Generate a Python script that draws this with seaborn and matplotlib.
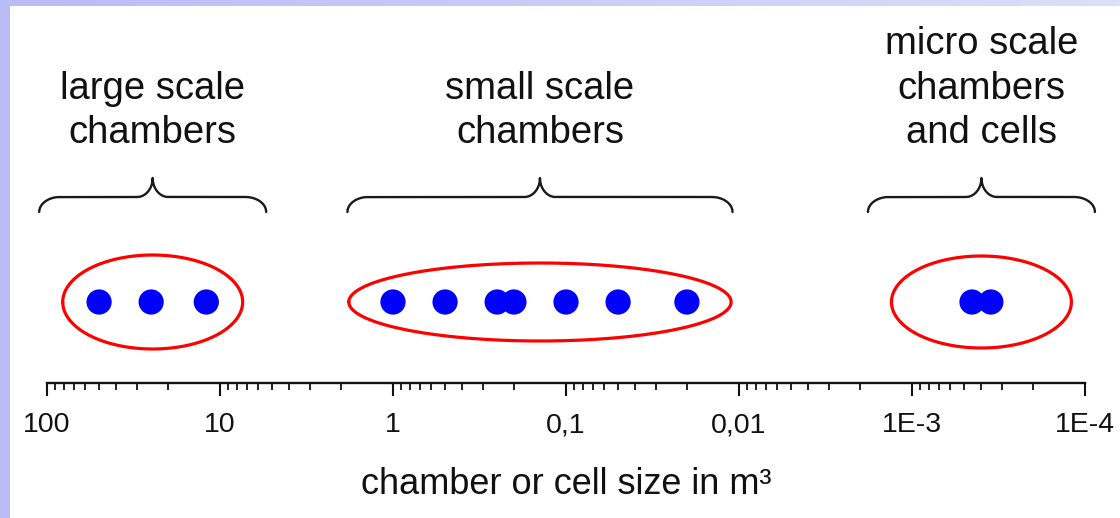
import numpy as np
import pandas as pd
import matplotlib
matplotlib.use("Agg")
import matplotlib.pyplot as plt
import matplotlib.ticker as mticker
import seaborn as sns

# chamber / cell sizes in m^3
large_sizes = [50, 25, 12]
small_sizes = [1.0, 0.5, 0.25, 0.2, 0.1, 0.05, 0.02]
micro_sizes = [4.5e-4, 3.5e-4]

group_labels = ["large scale\nchambers", "small scale\nchambers",
                "micro scale\nchambers\nand cells"]

tick_values = [100, 10, 1, 0.1, 0.01, 1e-3, 1e-4]
tick_labels = ["100", "10", "1", "0,1", "0,01", "1E-3", "1E-4"]

# layout (half widths in decades, heights in y units)
ellipse_halfwidth = [0.52, 1.105, 0.52]
ellipse_halfheight = [47, 39, 46]
brace_halfwidth = [0.656, 1.113, 0.656]

sns.set_style("white")
plt.rcParams["font.family"] = ["Liberation Sans", "DejaVu Sans"]

groups = [large_sizes, small_sizes, micro_sizes]
df = pd.DataFrame({
    "size": large_sizes + small_sizes + micro_sizes,
    "y": 0.0,
})

fig = plt.figure(figsize=(11.2, 5.18), dpi=100)
ax = fig.add_axes([47 / 1120, 135 / 518, 1038 / 1120, 363 / 518])

sns.scatterplot(data=df, x="size", y="y", ax=ax, color="#0000ff", s=330,
                edgecolor="none", linewidth=0, zorder=3, legend=False)

ax.set_xscale("log")
ax.set_xlim(100, 1e-4)
ax.set_ylim(-81, 282)


def draw_brace(ax, c, hw, y0=90, y1=105, y2=124, r=0.12, r2=0.09):
    t = np.linspace(0, np.pi / 2, 40)
    # left hook
    x_a = (c - hw + r) - r * np.cos(t)
    y_a = y0 + (y1 - y0) * np.sin(t)
    # rise to tip
    x_b = (c - r2) + r2 * np.sin(t)
    y_b = y2 - (y2 - y1) * np.cos(t)
    xl = np.concatenate([x_a, x_b])
    yl = np.concatenate([y_a, y_b])
    xs = np.concatenate([xl, (2 * c - xl)[::-1]])
    ys = np.concatenate([yl, yl[::-1]])
    ax.plot(10 ** xs, ys, color="#1a1a1a", lw=1.7, clip_on=False,
            solid_capstyle="round")


theta = np.linspace(0, 2 * np.pi, 300)
for i, g in enumerate(groups):
    logs = np.log10(g)
    c = (logs.min() + logs.max()) / 2
    ex = 10 ** (c + ellipse_halfwidth[i] * np.cos(theta))
    ey = ellipse_halfheight[i] * np.sin(theta)
    ax.plot(ex, ey, color="#ff0000", lw=2.3, clip_on=False, zorder=2)
    draw_brace(ax, c, brace_halfwidth[i])
    ax.text(10 ** c, 151, group_labels[i], ha="center", va="bottom",
            fontsize=27.5, color="#111111", linespacing=1.3)

ax.xaxis.set_major_locator(mticker.FixedLocator(tick_values))
ax.set_xticklabels(tick_labels)
ax.xaxis.set_minor_locator(mticker.LogLocator(base=10, subs=np.arange(2, 10)))
ax.xaxis.set_minor_formatter(mticker.NullFormatter())
ax.tick_params(axis="x", which="major", direction="out", length=9, width=1.5,
               labelsize=20.5, pad=12, colors="#111111", bottom=True)
ax.tick_params(axis="x", which="minor", direction="out", length=5, width=1.3,
               bottom=True, colors="#111111")
ax.set_yticks([])
ax.set_ylabel("")
ax.set_xlabel("chamber or cell size in m³", fontsize=26, labelpad=21,
              color="#111111")

for side in ["left", "top", "right"]:
    ax.spines[side].set_visible(False)
ax.spines["bottom"].set_linewidth(1.7)
ax.spines["bottom"].set_color("#111111")

# slide frame: lavender strips along top and left edges
top_ax = fig.add_axes([0, 1 - 6 / 518, 1, 6 / 518])
grad = np.linspace(0, 1, 256)
c0 = np.array([185, 188, 245]) / 255
c1 = np.array([220, 222, 250]) / 255
img = (c0[None, :] * (1 - grad[:, None]) + c1[None, :] * grad[:, None])[None, :, :]
top_ax.imshow(img, aspect="auto", extent=[0, 1, 0, 1])
top_ax.axis("off")
left_ax = fig.add_axes([0, 0, 10 / 1120, 1])
left_ax.set_facecolor(c0)
left_ax.set_xticks([])
left_ax.set_yticks([])
for s in left_ax.spines.values():
    s.set_visible(False)

fig.savefig("out.png", dpi=100)
